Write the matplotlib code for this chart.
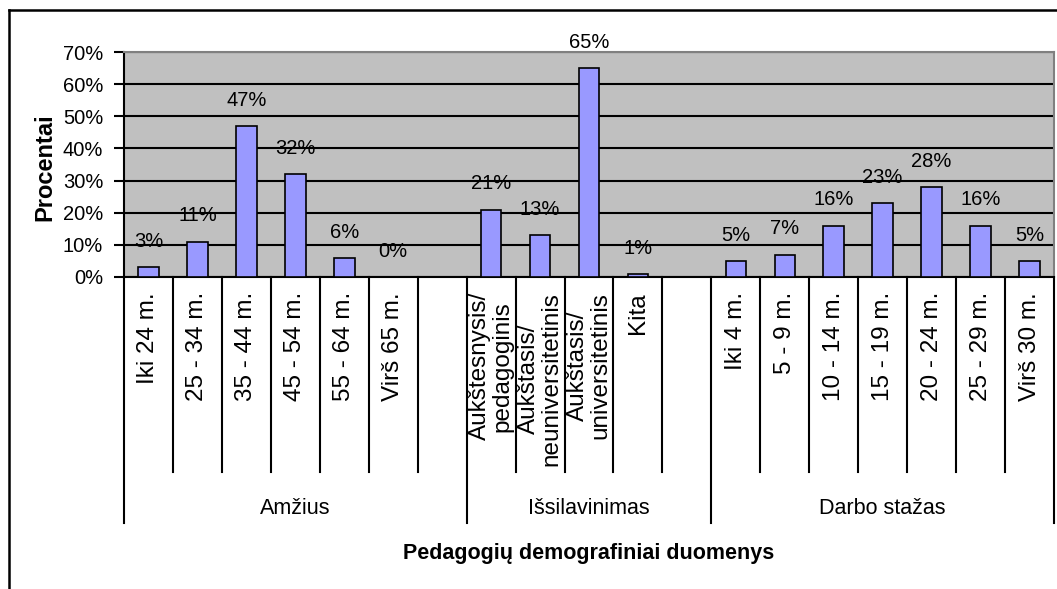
import matplotlib
matplotlib.use("Agg")
import matplotlib.pyplot as plt
from matplotlib.lines import Line2D
import numpy as np

plt.rcParams['font.family'] = ['Liberation Sans', 'DejaVu Sans']

# ---- data ----
groups = ['Amžius', 'Išsilavinimas', 'Darbo stažas']
age_labels = ['Iki 24 m.', '25 - 34 m.', '35 - 44 m.', '45 - 54 m.', '55 - 64 m.', 'Virš 65 m.']
age_values = [3, 11, 47, 32, 6, 0]
edu_labels = ['Aukštesnysis/\npedagoginis', 'Aukštasis/\nneuniversitetinis',
              'Aukštasis/\nuniversitetinis', 'Kita']
edu_values = [21, 13, 65, 1]
work_labels = ['Iki 4 m.', '5 - 9 m.', '10 - 14 m.', '15 - 19 m.', '20 - 24 m.', '25 - 29 m.', 'Virš 30 m.']
work_values = [5, 7, 16, 23, 28, 16, 5]
yticks = [0, 10, 20, 30, 40, 50, 60, 70]

# every group except the last one gets one empty slot after it
group_labels = [age_labels, edu_labels, work_labels]
group_values = [age_values, edu_values, work_values]

W, H = 1057, 589
fig = plt.figure(figsize=(W / 100, H / 100), dpi=100)
# plot area in pixels: x 124..1054, y 52..277
px_l, px_r, px_t, px_b = 124, 1054, 52, 277
ax = fig.add_axes([px_l / W, 1 - px_b / H, (px_r - px_l) / W, (px_b - px_t) / H])
ax_h = px_b - px_t

def yfrac(py):
    # pixel row below the plot -> axes fraction
    return (px_b - py) / ax_h

ax.set_facecolor('#C0C0C0')

pos = 0
slot_x, slot_lab, slot_val = [], [], []
group_bounds = []
for gi, (labs, vals) in enumerate(zip(group_labels, group_values)):
    start = pos
    for lab, v in zip(labs, vals):
        slot_x.append(pos)
        slot_lab.append(lab)
        slot_val.append(v)
        pos += 1
    if gi < len(groups) - 1:
        pos += 1  # empty slot
    group_bounds.append((start - 0.5, pos - 0.5))
n_slots = pos

ax.bar(slot_x, slot_val, width=0.42, color='#9999FF', edgecolor='black', linewidth=1.2, zorder=3)

for x, v in zip(slot_x, slot_val):
    ax.annotate(f'{v}%', xy=(x, v), xytext=(0, 18.5), textcoords='offset points',
                ha='center', va='center', fontsize=14.5, zorder=4)

ax.set_xlim(-0.5, n_slots - 0.5)
ax.set_ylim(0, 70)
ax.set_yticks(yticks)
ax.set_yticklabels([f'{t}%' for t in yticks], fontsize=14.5)
ax.yaxis.grid(True, color='black', linewidth=1.5, zorder=1)
ax.set_axisbelow(True)
ax.tick_params(axis='y', length=7, width=1.5, pad=8, direction='out')
ax.set_xticks([])

for side in ['top', 'right']:
    ax.spines[side].set_color('#808080')
    ax.spines[side].set_linewidth(1.5)
for side in ['left', 'bottom']:
    ax.spines[side].set_color('black')
    ax.spines[side].set_linewidth(1.5)

# multi-level category axis
tr = ax.get_xaxis_transform()
y_inner = yfrac(472)
y_outer = yfrac(523)
outer_edges = set()
for a, b in group_bounds:
    outer_edges.add(a)
    outer_edges.add(b)
for i in range(n_slots + 1):
    xe = i - 0.5
    y1 = y_outer if any(abs(xe - e) < 1e-9 for e in outer_edges) else y_inner
    ax.add_line(Line2D([xe, xe], [0, y1], transform=tr, color='black', lw=1.5, clip_on=False))

for x, lab in zip(slot_x, slot_lab):
    ax.text(x, yfrac(292), lab, transform=tr, rotation=90, ha='center', va='top',
            multialignment='center', fontsize=17.5, linespacing=1.05)

for g, (a, b) in zip(groups, group_bounds):
    ax.text((a + b) / 2, yfrac(508), g, transform=tr, ha='center', va='center', fontsize=15.5)

fig.text((px_l + px_r) / 2 / W, 1 - 554 / H, 'Pedagogių demografiniai duomenys',
         ha='center', va='center', fontsize=15.5, fontweight='bold')
fig.text(45 / W, 1 - 167 / H, 'Procentai', rotation=90, ha='center', va='center',
         fontsize=17, fontweight='bold')

# outer chart border (runs off the right and bottom edge)
fig.add_artist(Line2D([9 / W, 1.0], [1 - 10 / H, 1 - 10 / H], transform=fig.transFigure, color='black', lw=1.8))
fig.add_artist(Line2D([9 / W, 9 / W], [1 - 10 / H, 0.0], transform=fig.transFigure, color='black', lw=1.8))

fig.savefig('out.png', dpi=100)
